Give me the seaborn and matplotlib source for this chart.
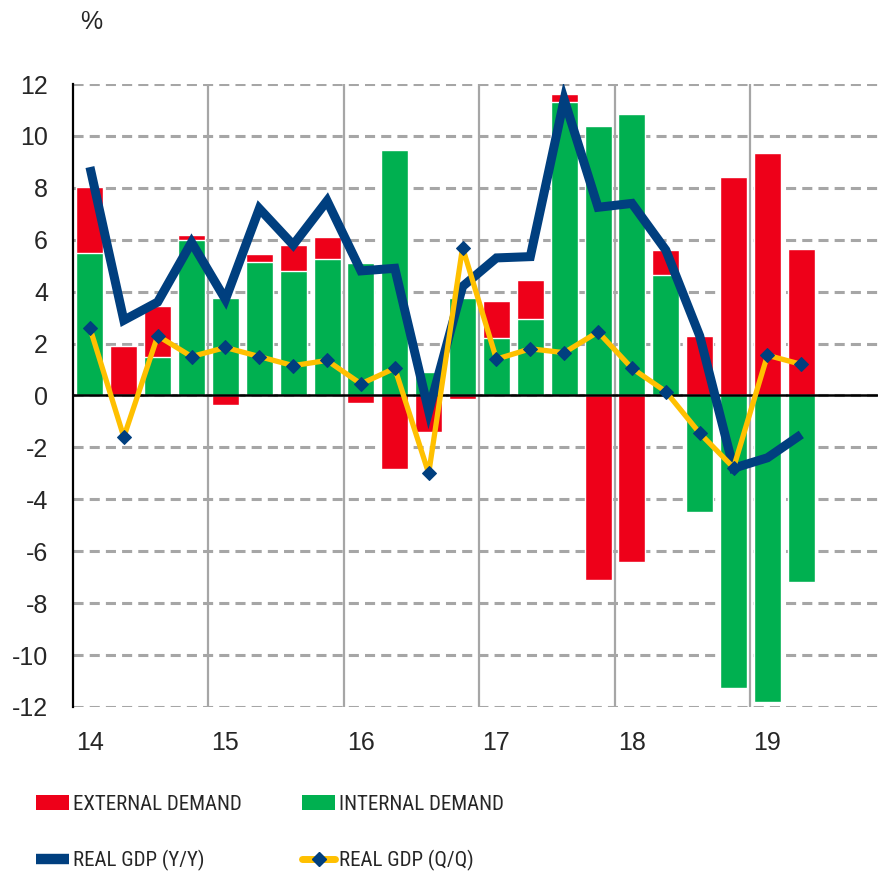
import matplotlib
matplotlib.use("Agg")
import matplotlib.pyplot as plt
from matplotlib import font_manager as fm
from matplotlib.lines import Line2D
from matplotlib.patches import Patch
import numpy as np
import pandas as pd
import seaborn as sns

# quarterly contributions to growth, 2014Q1 - 2019Q2
quarters = ["14Q1", "14Q2", "14Q3", "14Q4", "15Q1", "15Q2", "15Q3", "15Q4",
            "16Q1", "16Q2", "16Q3", "16Q4", "17Q1", "17Q2", "17Q3", "17Q4",
            "18Q1", "18Q2", "18Q3", "18Q4", "19Q1", "19Q2"]
internal = [5.5, 0.0, 1.5, 6.0, 3.75, 5.15, 4.8, 5.25,
            5.1, 9.45, 0.9, 3.75, 2.2, 2.95, 11.3, 10.4,
            10.85, 4.65, -4.5, -11.25, -11.8, -7.2]
external = [2.55, 1.9, 1.95, 0.2, -0.35, 0.3, 1.0, 0.85,
            -0.3, -2.85, -1.4, -0.15, 1.45, 1.5, 0.3, -7.1,
            -6.4, 0.95, 2.3, 8.4, 9.35, 5.65]
gdp_yy = [8.8, 2.9, 3.6, 5.9, 3.7, 7.2, 5.8, 7.5,
          4.8, 4.9, -0.6, 4.2, 5.3, 5.35, 11.4, 7.25,
          7.4, 5.6, 2.3, -2.8, -2.4, -1.5]
gdp_qq = [2.6, -1.6, 2.3, 1.5, 1.85, 1.5, 1.15, 1.35,
          0.45, 1.05, -3.0, 5.7, 1.4, 1.8, 1.65, 2.45,
          1.05, 0.15, -1.45, -2.78, 1.55, 1.2]
year_labels = ["14", "15", "16", "17", "18", "19"]

RED = "#EE0019"
GREEN = "#00B050"
NAVY = "#003F7F"
YELLOW = "#FFC000"
GRID = "#A6A6A6"

sns.set_style("white")
plt.rcParams["font.family"] = ["Liberation Sans", "DejaVu Sans"]
plt.rcParams["axes.unicode_minus"] = False

# legend text in the reference is a narrow grotesque; use one if the system has it
leg_font = fm.FontProperties(family=["Liberation Sans", "DejaVu Sans"], size=13)
for name in ["Liberation Sans Narrow", "Arial Narrow", "Roboto Condensed", "Open Sans Condensed"]:
    hits = [f for f in fm.fontManager.ttflist if f.name == name and f.style == "normal"
            and f.weight in (400, "normal", "regular")]
    if hits:
        leg_font = fm.FontProperties(fname=hits[0].fname, size=15)
        break

df = pd.DataFrame({"pos": range(len(quarters)), "quarter": quarters,
                   "internal": internal, "external": external,
                   "yy": gdp_yy, "qq": gdp_qq})
# red drawn first from zero; where both parts share a sign it reaches the stacked total
same = np.sign(df["internal"]) == np.sign(df["external"])
df["red_top"] = np.where(same, df["internal"] + df["external"], df["external"])

fig = plt.figure(figsize=(8.79, 8.80), dpi=100)
ax = fig.add_axes([73 / 879, 173 / 880, 813 / 879, 623 / 880])

sns.barplot(data=df, x="pos", y="red_top", color=RED, saturation=1, width=0.8, ax=ax, zorder=2)
sns.barplot(data=df, x="pos", y="internal", color=GREEN, saturation=1, width=0.8, ax=ax, zorder=2)
sns.lineplot(data=df, x="pos", y="yy", color=NAVY, lw=6.5, ax=ax, zorder=4,
             solid_joinstyle="miter", solid_capstyle="butt")
sns.lineplot(data=df, x="pos", y="qq", color=YELLOW, lw=3.8, marker="D", markersize=7,
             markerfacecolor=NAVY, markeredgecolor=NAVY, ax=ax, zorder=5)

ax.set_xlim(-0.5, 23.5)
ax.set_ylim(-12, 12)
ax.set_yticks(range(-12, 13, 2))
ax.set_xticks([3.5, 7.5, 11.5, 15.5, 19.5])
ax.set_xticklabels([])
ax.set_xlabel("")
ax.set_ylabel("")
ax.set_axisbelow(True)

ax.yaxis.grid(True, color=GRID, ls=(0, (3.3, 2.0)), lw=2.2)
ax.xaxis.grid(True, color=GRID, ls="-", lw=1.6)

for s in ["top", "right"]:
    ax.spines[s].set_visible(False)
ax.spines["left"].set_color("black")
ax.spines["left"].set_linewidth(1.6)
ax.spines["bottom"].set_position(("data", 0))
ax.spines["bottom"].set_color("black")
ax.spines["bottom"].set_linewidth(1.8)
ax.spines["bottom"].set_zorder(3)

ax.tick_params(axis="y", direction="in", length=7, width=1.6, pad=18, labelsize=18)
ax.tick_params(axis="x", direction="in", length=6, width=1.6, labelbottom=False)

for i, lab in enumerate(year_labels):
    ax.text(i * 4, -13.4, lab, ha="center", va="center", fontsize=18, clip_on=False)

fig.text(91 / 879, 1 - 22 / 880, "%", ha="center", va="center", fontsize=18)

h_ext = Patch(facecolor=RED, edgecolor="none")
h_int = Patch(facecolor=GREEN, edgecolor="none")
h_yy = Line2D([], [], color=NAVY, lw=7.5, solid_capstyle="butt")
h_qq = Line2D([], [], color=YELLOW, lw=5, marker="D", markersize=7,
              markerfacecolor=NAVY, markeredgecolor=NAVY, solid_capstyle="round")

fs_px = leg_font.get_size_in_points() * 100 / 72
leg_kw = dict(loc="center left", frameon=False, prop=leg_font,
              handlelength=33 / fs_px, handleheight=15 / fs_px, handletextpad=4 / fs_px,
              labelspacing=1.0, borderpad=0, borderaxespad=0)
for x0, hs, labs in [(36, [h_ext, h_yy], ["EXTERNAL DEMAND", "REAL GDP (Y/Y)"]),
                     (302, [h_int, h_qq], ["INTERNAL DEMAND", "REAL GDP (Q/Q)"])]:
    for y0, h, lab in zip([804, 860], hs, labs):
        fig.legend([h], [lab], bbox_to_anchor=(x0 / 879, 1 - y0 / 880), **leg_kw)

fig.savefig("out.png", dpi=100)
